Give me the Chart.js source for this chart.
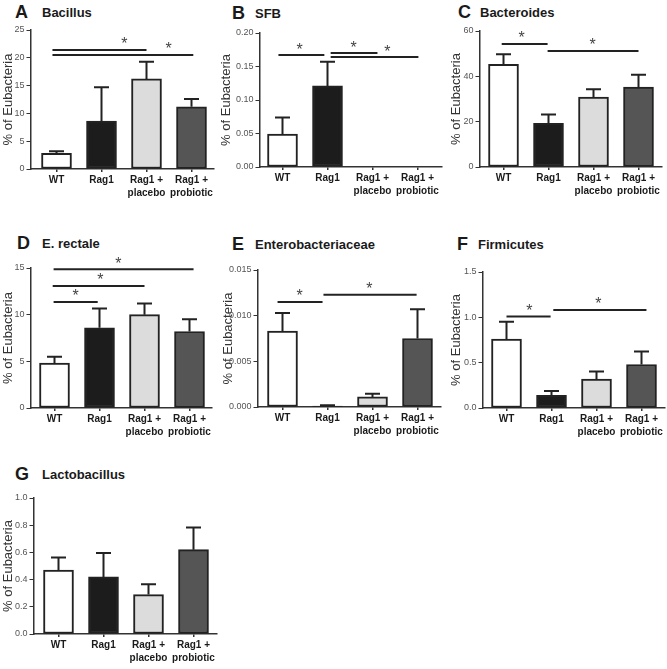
<!DOCTYPE html>
<html lang="en">
<head>
<meta charset="UTF-8">
<title>Bacterial groups, % of Eubacteria</title>
<script src="https://cdn.jsdelivr.net/npm/chart.js@4"></script>
<style>
  body { margin: 0; background: #fff; font-family: "Liberation Sans", Arial, sans-serif; }
  #fig { position: relative; width: 667px; height: 669px; overflow: hidden; }
  .panel { position: absolute; }
  .letter, .name { position: absolute; font-weight: bold; color: #1a1a1a; line-height: 1; white-space: nowrap; }
  .letter { font-size: 18px; }
  .name { font-size: 13px; }
</style>
</head>
<body>
<div id="fig"></div>

<script>
  // groups on the x axis
  const groups = ["WT", "Rag1", ["Rag1 +", "placebo"], ["Rag1 +", "probiotic"]];
  const barColors = ["#ffffff", "#1c1c1c", "#dcdcdc", "#555555"];

  // mean and SEM, % of Eubacteria
  const bacillusMean = [2.8, 8.6, 16.2, 11.2];
  const bacillusSem = [0.4, 6.1, 3.1, 1.4];
  const sfbMean = [0.049, 0.121, 0, 0];
  const sfbSem = [0.025, 0.036, 0, 0];
  const bacteroidesMean = [45.3, 19.3, 30.8, 35.3];
  const bacteroidesSem = [4.4, 3.9, 3.5, 5.4];
  const rectaleMean = [4.8, 8.6, 10.0, 8.2];
  const rectaleSem = [0.7, 2.05, 1.2, 1.3];
  const enteroMean = [0.0083, 0.0001, 0.0011, 0.0075];
  const enteroSem = [0.002, 0.0001, 0.00035, 0.0032];
  const firmicutesMean = [0.76, 0.14, 0.32, 0.48];
  const firmicutesSem = [0.19, 0.048, 0.082, 0.144];
  const lactoMean = [0.47, 0.42, 0.29, 0.62];
  const lactoSem = [0.093, 0.176, 0.076, 0.164];

  // significance bars: [from group, to group, height, star position]
  const bacillusSig = [[-0.09, 2.0, 21.4, 1.51], [-0.09, 3.04, 20.5, 2.49]];
  const sfbSig = [[-0.09, 0.93, 0.167, 0.38], [1.07, 2.11, 0.170, 1.58], [1.07, 3.02, 0.164, 2.33]];
  const bacteroidesSig = [[-0.04, 0.98, 54.3, 0.4], [0.98, 3.0, 51.2, 1.98]];
  const rectaleSig = [[-0.02, 3.09, 14.86, 1.42], [-0.04, 2.0, 13.08, 1.02], [-0.02, 0.96, 11.37, 0.47]];
  const enteroSig = [[-0.11, 0.89, 0.0115, 0.38], [0.91, 2.98, 0.0123, 1.93]];
  const firmicutesSig = [[0, 0.98, 1.01, 0.51], [1.04, 3.11, 1.08, 2.04]];
  const lactoSig = [];

  const fig = document.getElementById("fig");
  const FONT = "'Liberation Sans', Arial, sans-serif";
  const STEP = 45; // px per group

  function head(letter, name, x1, x2, cy) {
    const a = document.createElement("span");
    a.className = "letter"; a.textContent = letter;
    a.style.left = x1 + "px"; a.style.top = (cy - 9) + "px";
    const b = document.createElement("span");
    b.className = "name"; b.textContent = name;
    b.style.left = x2 + "px"; b.style.top = (cy - 6.5) + "px";
    fig.appendChild(a); fig.appendChild(b);
  }

  function panel(g, mean, sem, sig, yMax, yStep, dec) {
    const padTop = 20, xH = 34, padR = 3;
    const left = g.titleX - 6.5;
    const div = document.createElement("div");
    div.className = "panel";
    div.style.left = left + "px";
    div.style.top = (g.yt - padTop) + "px";
    div.style.width = (g.right - left + padR) + "px";
    div.style.height = (g.yb - g.yt + padTop + xH) + "px";
    const canvas = document.createElement("canvas");
    div.appendChild(canvas);
    fig.appendChild(div);

    const extras = {
      id: "extras",
      afterDatasetsDraw(chart) {
        const ctx = chart.ctx, xs = chart.scales.x, ys = chart.scales.y;
        const bars = chart.getDatasetMeta(0).data;
        ctx.save();
        ctx.strokeStyle = "#222";
        ctx.lineWidth = 2;
        sem.forEach((s, i) => {
          if (!s) return;
          const bx = bars[i].x, top = ys.getPixelForValue(mean[i] + s);
          ctx.beginPath();
          ctx.moveTo(bx, bars[i].y); ctx.lineTo(bx, top);
          ctx.moveTo(bx - 7.5, top); ctx.lineTo(bx + 7.5, top);
          ctx.stroke();
        });
        ctx.fillStyle = "#444";
        ctx.font = "16px " + FONT;
        ctx.textAlign = "center";
        ctx.textBaseline = "middle";
        sig.forEach(([a, b, v, sx]) => {
          const py = ys.getPixelForValue(v);
          ctx.beginPath();
          ctx.moveTo(xs.getPixelForValue(a), py);
          ctx.lineTo(xs.getPixelForValue(b), py);
          ctx.stroke();
          ctx.fillText("*", xs.getPixelForValue(sx), py - 5);
        });
        ctx.restore();
      }
    };

    new Chart(canvas, {
      type: "bar",
      data: {
        datasets: [{
          data: mean.map((v, i) => ({ x: i, y: v })),
          backgroundColor: barColors,
          borderColor: "#222",
          borderWidth: 2,
          borderSkipped: false,
          barThickness: 30
        }]
      },
      options: {
        responsive: true,
        maintainAspectRatio: false,
        animation: false,
        devicePixelRatio: 1,
        layout: { padding: { top: padTop, right: padR, left: 0, bottom: 0 } },
        plugins: { legend: { display: false }, tooltip: { enabled: false } },
        scales: {
          x: {
            type: "linear",
            offset: false,
            min: -(g.c0 - g.ax) / STEP,
            max: (g.right - g.c0) / STEP,
            afterBuildTicks: s => { s.ticks = groups.map((_, i) => ({ value: i })); },
            afterFit: s => { s.height = xH; s.paddingLeft = 0; s.paddingRight = 0; },
            grid: { offset: false, drawOnChartArea: false, tickLength: 3, color: "#333", lineWidth: 1.5 },
            border: { color: "#333", width: 1.5 },
            ticks: {
              autoSkip: false,
              maxRotation: 0,
              padding: 2,
              color: "#1a1a1a",
              font: { family: FONT, size: 10, weight: "bold", lineHeight: 1.3 },
              callback: v => groups[v]
            }
          },
          y: {
            min: 0,
            max: yMax,
            afterFit: s => { s.width = g.ax - left; s.paddingTop = 0; s.paddingBottom = 0; },
            grid: { drawOnChartArea: false, tickLength: 4, color: "#333", lineWidth: 1 },
            border: { color: "#333", width: 1.5 },
            ticks: {
              stepSize: yStep,
              padding: 2,
              color: "#555",
              font: { family: FONT, size: 9 },
              callback: v => v.toFixed(dec)
            },
            title: {
              display: true,
              text: "% of Eubacteria",
              color: "#333",
              padding: { top: 0, bottom: 0 },
              font: { family: FONT, size: 13, lineHeight: 1 }
            }
          }
        }
      },
      plugins: [extras]
    });
  }

  head("A", "Bacillus", 15, 42, 12);
  head("B", "SFB", 232, 255, 13);
  head("C", "Bacteroides", 458, 480, 12);
  head("D", "E. rectale", 17, 42, 243);
  head("E", "Enterobacteriaceae", 232, 255, 244);
  head("F", "Firmicutes", 457, 478, 244);
  head("G", "Lactobacillus", 15, 42, 474);

  panel({ ax: 30, yt: 30, yb: 169, c0: 56, right: 213, titleX: 8 }, bacillusMean, bacillusSem, bacillusSig, 25, 5, 0);
  panel({ ax: 259, yt: 33, yb: 167, c0: 282, right: 441, titleX: 226 }, sfbMean, sfbSem, sfbSig, 0.2, 0.05, 2);
  panel({ ax: 479, yt: 31, yb: 167, c0: 503, right: 661, titleX: 456 }, bacteroidesMean, bacteroidesSem, bacteroidesSig, 60, 20, 0);
  panel({ ax: 30, yt: 268, yb: 408, c0: 54, right: 211, titleX: 8 }, rectaleMean, rectaleSem, rectaleSig, 15, 5, 0);
  panel({ ax: 257, yt: 270, yb: 407, c0: 282, right: 440, titleX: 228 }, enteroMean, enteroSem, enteroSig, 0.015, 0.005, 3);
  panel({ ax: 482, yt: 272, yb: 408, c0: 506, right: 664, titleX: 456 }, firmicutesMean, firmicutesSem, firmicutesSig, 1.5, 0.5, 1);
  panel({ ax: 33, yt: 498, yb: 634, c0: 58, right: 216, titleX: 8 }, lactoMean, lactoSem, lactoSig, 1.0, 0.2, 1);
</script>
</body>
</html>
